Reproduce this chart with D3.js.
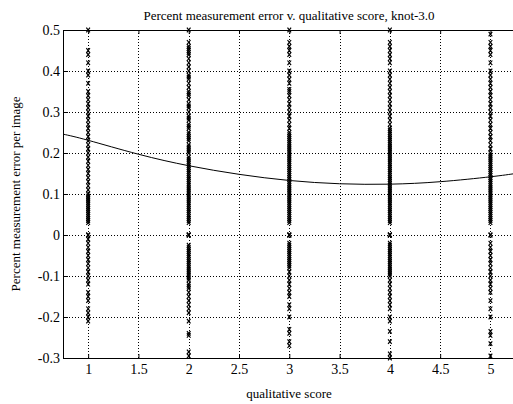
<!DOCTYPE html>
<html><head><meta charset="utf-8">
<script src="https://cdn.jsdelivr.net/npm/d3@7"></script>
<style>body{margin:0;background:#fff}svg{display:block}</style>
</head><body>
<svg id="c" width="513" height="404"></svg>
<script>
const titleText = "Percent measurement error v. qualitative score, knot-3.0";
const xLabel = "qualitative score";
const yLabel = "Percent measurement error per image";
const xTicks = [1, 1.5, 2, 2.5, 3, 3.5, 4, 4.5, 5];
const yTicks = [-0.3, -0.2, -0.1, 0, 0.1, 0.2, 0.3, 0.4, 0.5];
const scores = [1, 2, 3, 4, 5];
const s1 = [0.5,0.45,0.44,0.42,0.40,0.39,0.37,0.35,0.34,0.33,0.32,0.31,0.30,0.29,0.28,0.27,0.26,0.25,0.24,0.23,0.22,0.21,0.2,0.19,0.18,0.17,0.16,0.15,0.14,0.13,0.12,0.11,0.1,0.095,0.09,0.085,0.08,0.075,0.07,0.065,0.06,0.055,0.05,0.045,0.04,0.035,0.03,0,0,-0.01,-0.02,-0.03,-0.04,-0.05,-0.06,-0.07,-0.08,-0.09,-0.1,-0.11,-0.12,-0.14,-0.15,-0.16,-0.18,-0.19,-0.2,-0.21];
const s2 = [0.5,0.47,0.46,0.455,0.45,0.445,0.44,0.43,0.42,0.41,0.4,0.39,0.385,0.38,0.37,0.36,0.35,0.345,0.34,0.33,0.32,0.315,0.31,0.3,0.29,0.285,0.28,0.27,0.265,0.26,0.25,0.245,0.24,0.235,0.23,0.22,0.215,0.21,0.205,0.2,0.19,0.185,0.18,0.175,0.17,0.165,0.16,0.155,0.15,0.145,0.14,0.135,0.13,0.125,0.12,0.115,0.11,0.105,0.1,0.095,0.09,0.085,0.08,0.075,0.07,0.065,0.06,0.055,0.05,0.045,0.04,0.035,0.03,0,0,0,-0.025,-0.03,-0.035,-0.04,-0.045,-0.05,-0.055,-0.06,-0.065,-0.07,-0.075,-0.08,-0.085,-0.09,-0.095,-0.1,-0.105,-0.11,-0.12,-0.125,-0.13,-0.14,-0.15,-0.16,-0.17,-0.18,-0.19,-0.21,-0.24,-0.245,-0.285,-0.295];
const s3 = [0.5,0.47,0.46,0.45,0.44,0.42,0.4,0.39,0.38,0.37,0.355,0.35,0.34,0.33,0.32,0.31,0.3,0.29,0.28,0.27,0.26,0.25,0.245,0.24,0.235,0.23,0.225,0.22,0.215,0.21,0.205,0.2,0.195,0.19,0.185,0.18,0.175,0.17,0.165,0.16,0.155,0.15,0.145,0.14,0.135,0.13,0.125,0.12,0.115,0.11,0.105,0.1,0.095,0.09,0.085,0.08,0.075,0.07,0.065,0.06,0.055,0.05,0.045,0.04,0.035,0.03,0,0,0,-0.02,-0.025,-0.03,-0.035,-0.04,-0.045,-0.05,-0.055,-0.06,-0.065,-0.07,-0.075,-0.08,-0.09,-0.1,-0.11,-0.12,-0.13,-0.14,-0.15,-0.17,-0.18,-0.2,-0.23,-0.24,-0.26,-0.27];
const s4 = [0.5,0.47,0.46,0.45,0.44,0.43,0.42,0.4,0.39,0.38,0.37,0.36,0.35,0.34,0.33,0.32,0.31,0.3,0.29,0.28,0.27,0.26,0.255,0.25,0.245,0.24,0.235,0.23,0.225,0.22,0.215,0.21,0.205,0.2,0.195,0.19,0.185,0.18,0.175,0.17,0.165,0.16,0.155,0.15,0.145,0.14,0.135,0.13,0.125,0.12,0.115,0.11,0.105,0.1,0.095,0.09,0.085,0.08,0.075,0.07,0.065,0.06,0.055,0.05,0.045,0.04,0.035,0.03,0,0,0,-0.02,-0.025,-0.03,-0.035,-0.04,-0.045,-0.05,-0.055,-0.06,-0.065,-0.07,-0.075,-0.08,-0.085,-0.09,-0.095,-0.1,-0.11,-0.12,-0.13,-0.14,-0.15,-0.16,-0.17,-0.18,-0.2,-0.21,-0.235,-0.26,-0.29,-0.3];
const s5 = [0.49,0.47,0.46,0.45,0.44,0.42,0.4,0.39,0.38,0.37,0.36,0.35,0.34,0.33,0.32,0.31,0.3,0.29,0.28,0.27,0.26,0.25,0.24,0.23,0.22,0.21,0.2,0.195,0.19,0.185,0.18,0.175,0.17,0.165,0.16,0.155,0.15,0.145,0.14,0.135,0.13,0.125,0.12,0.115,0.11,0.105,0.1,0.095,0.09,0.085,0.08,0.075,0.07,0.065,0.06,0.055,0.05,0.045,0.04,0.035,0.03,0,0,-0.02,-0.03,-0.04,-0.05,-0.06,-0.07,-0.08,-0.09,-0.1,-0.11,-0.12,-0.13,-0.14,-0.16,-0.18,-0.2,-0.235,-0.245,-0.265,-0.295];
const seriesValues = [s1, s2, s3, s4, s5];
const fitX = [0.75, 1, 1.5, 2, 2.5, 3, 3.5, 4, 4.5, 5, 5.25];
const fitY = [0.246, 0.231, 0.197, 0.169, 0.148, 0.133, 0.125, 0.124, 0.130, 0.142, 0.150];

const svg = d3.select("#c");
const L = 63, R = 515.6, T = 30, B = 358;
const x = d3.scaleLinear().domain([0.75, 5.25]).range([L, R]);
const y = d3.scaleLinear().domain([-0.3, 0.5]).range([B, T]);
const font = "'Liberation Serif','Times New Roman',serif";

svg.append("defs").append("clipPath").attr("id","clip")
  .append("rect").attr("x",L).attr("y",T).attr("width",R-L).attr("height",B-T);

// grid
const g = svg.append("g").attr("shape-rendering","crispEdges");
g.selectAll("line.vx").data(xTicks).join("line")
  .attr("x1",d=>Math.round(x(d))+0.5).attr("x2",d=>Math.round(x(d))+0.5)
  .attr("y1",T).attr("y2",B).attr("stroke","#000").attr("stroke-dasharray","1,2").attr("stroke-width",1);
g.selectAll("line.hy").data(yTicks.filter(v=>v>-0.3&&v<0.5)).join("line")
  .attr("y1",d=>Math.round(y(d))+0.5).attr("y2",d=>Math.round(y(d))+0.5)
  .attr("x1",L).attr("x2",R).attr("stroke","#000").attr("stroke-dasharray","1,2").attr("stroke-width",1);

// axes
const fmt = d=>String(+d.toFixed(2));
const ax = (gen, tr) => svg.append("g").attr("transform",tr).call(gen)
  .call(s=>s.select(".domain").remove())
  .call(s=>s.selectAll("text").attr("font-family",font).attr("font-size",14).attr("fill","#000"))
  .call(s=>s.selectAll("line").attr("stroke","#000"));
ax(d3.axisBottom(x).tickValues(xTicks).tickFormat(fmt).tickSizeInner(-4).tickPadding(6), `translate(0,${B})`);
ax(d3.axisTop(x).tickValues(xTicks).tickFormat("").tickSizeInner(-4), `translate(0,${T})`);
ax(d3.axisLeft(y).tickValues(yTicks).tickFormat(fmt).tickSizeInner(-5).tickPadding(3), `translate(${L},0)`);
svg.append("rect").attr("x",L+0.5).attr("y",T+0.5).attr("width",R-L).attr("height",B-T)
  .attr("fill","none").attr("stroke","#000").attr("stroke-width",1);

// points
const pts = [];
scores.forEach((s,i)=>seriesValues[i].forEach(v=>pts.push([s,v])));
svg.append("g").selectAll("path").data(pts).join("path")
  .attr("transform",d=>`translate(${x(d[0])},${y(d[1])})`)
  .attr("d","M-1.8,-2.3L1.8,2.3M-1.8,2.3L1.8,-2.3")
  .attr("stroke","#000").attr("stroke-width",1.2).attr("fill","none");

// fitted curve
const fit = fitX.map((v,i)=>[v,fitY[i]]);
svg.append("path").datum(fit).attr("clip-path","url(#clip)")
  .attr("d",d3.line().x(d=>x(d[0])).y(d=>y(d[1])).curve(d3.curveNatural))
  .attr("fill","none").attr("stroke","#000").attr("stroke-width",1);

// labels
svg.append("text").attr("x",289).attr("y",20).attr("text-anchor","middle")
  .attr("font-family",font).attr("font-size",13).text(titleText);
svg.append("text").attr("x",289).attr("y",398).attr("text-anchor","middle")
  .attr("font-family",font).attr("font-size",13).text(xLabel);
svg.append("text").attr("transform","translate(20,194) rotate(-90)").attr("text-anchor","middle")
  .attr("font-family",font).attr("font-size",13).text(yLabel);
</script>
</body></html>
